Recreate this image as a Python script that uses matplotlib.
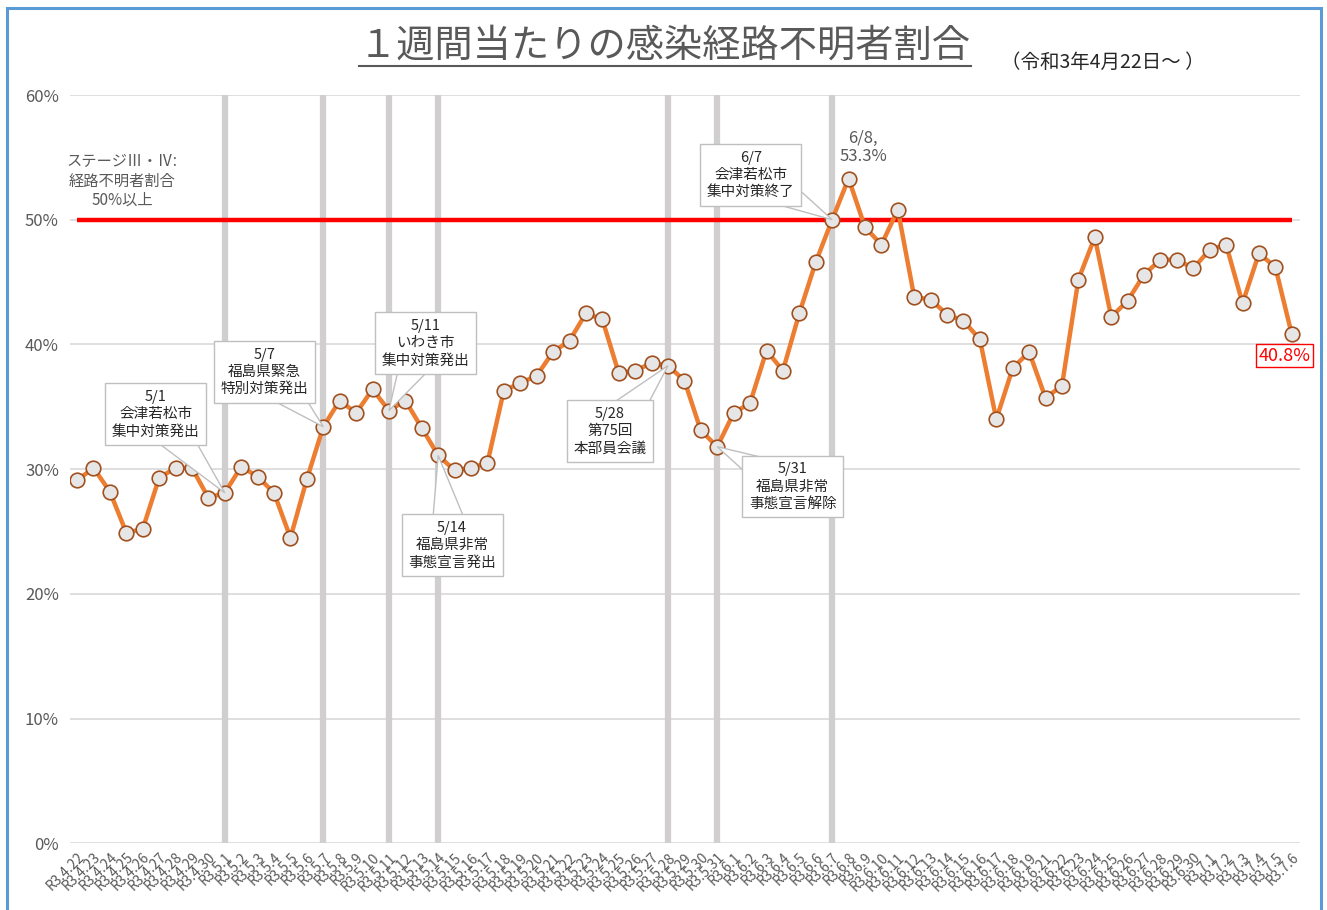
import matplotlib
matplotlib.use("Agg")
import numpy as np
import matplotlib.pyplot as plt
from matplotlib.lines import Line2D
from matplotlib.patches import Rectangle, Polygon

plt.rcParams["font.family"] = ["Noto Sans CJK JP", "DejaVu Sans"]

# dates (6/20 has no data)
dates = [
    "R3.4.22", "R3.4.23", "R3.4.24", "R3.4.25", "R3.4.26", "R3.4.27", "R3.4.28", "R3.4.29", "R3.4.30",
    "R3.5.1", "R3.5.2", "R3.5.3", "R3.5.4", "R3.5.5", "R3.5.6", "R3.5.7", "R3.5.8", "R3.5.9", "R3.5.10",
    "R3.5.11", "R3.5.12", "R3.5.13", "R3.5.14", "R3.5.15", "R3.5.16", "R3.5.17", "R3.5.18", "R3.5.19",
    "R3.5.20", "R3.5.21", "R3.5.22", "R3.5.23", "R3.5.24", "R3.5.25", "R3.5.26", "R3.5.27", "R3.5.28",
    "R3.5.29", "R3.5.30", "R3.5.31",
    "R3.6.1", "R3.6.2", "R3.6.3", "R3.6.4", "R3.6.5", "R3.6.6", "R3.6.7", "R3.6.8", "R3.6.9", "R3.6.10",
    "R3.6.11", "R3.6.12", "R3.6.13", "R3.6.14", "R3.6.15", "R3.6.16", "R3.6.17", "R3.6.18", "R3.6.19",
    "R3.6.21", "R3.6.22", "R3.6.23", "R3.6.24", "R3.6.25", "R3.6.26", "R3.6.27", "R3.6.28", "R3.6.29",
    "R3.6.30",
    "R3.7.1", "R3.7.2", "R3.7.3", "R3.7.4", "R3.7.5", "R3.7.6",
]
ratio = [
    29.1, 30.1, 28.2, 24.9, 25.2, 29.3, 30.1, 30.1, 27.7,
    28.1, 30.2, 29.4, 28.1, 24.5, 29.2, 33.4, 35.5, 34.5, 36.4,
    34.7, 35.5, 33.3, 31.1, 29.9, 30.1, 30.5, 36.3, 36.9,
    37.5, 39.4, 40.3, 42.5, 42.0, 37.7, 37.9, 38.5, 38.3,
    37.1, 33.1, 31.8,
    34.5, 35.3, 39.5, 37.9, 42.5, 46.6, 50.0, 53.3, 49.4, 48.0,
    50.8, 43.8, 43.6, 42.4, 41.9, 40.4, 34.0, 38.1, 39.4,
    35.7, 36.7, 45.2, 48.6, 42.2, 43.5, 45.6, 46.8, 46.8,
    46.1,
    47.6, 48.0, 43.3, 47.3, 46.2, 40.8,
]
threshold = 50
event_dates = ["R3.5.1", "R3.5.7", "R3.5.11", "R3.5.14", "R3.5.28", "R3.5.31", "R3.6.7"]
event_texts = [
    "5/1\n会津若松市\n集中対策発出",
    "5/7\n福島県緊急\n特別対策発出",
    "5/11\nいわき市\n集中対策発出",
    "5/14\n福島県非常\n事態宣言発出",
    "5/28\n第75回\n本部員会議",
    "5/31\n福島県非常\n事態宣言解除",
    "6/7\n会津若松市\n集中対策終了",
]
# box centres (x index, y %)
event_box = [(4.8, 34.4), (11.4, 37.8), (21.25, 40.1), (22.85, 23.9),
             (32.45, 33.05), (43.6, 28.6), (41.05, 53.6)]

x = list(range(len(dates)))
gray = "#595959"

fig = plt.figure(figsize=(13.27, 9.10), dpi=100)
ax = fig.add_axes([70 / 1327, 1 - 843.3 / 910, 1230 / 1327, 748.3 / 910])

ax.set_xlim(-0.43, len(dates) - 1 + 0.5)
ax.set_ylim(0, 60)
ax.set_yticks(range(0, 61, 10))
ax.set_yticklabels([f"{v}%" for v in range(0, 61, 10)], color=gray, fontsize=12)
ax.set_xticks(x)
ax.set_xticklabels(dates, rotation=45, ha="right", va="top", rotation_mode="anchor",
                   fontsize=10, color=gray)
ax.tick_params(length=0, pad=8)
ax.tick_params(axis="x", pad=5)
for s in ax.spines.values():
    s.set_visible(False)
ax.grid(axis="y", color="#D9D9D9", lw=1.2, zorder=0)
ax.set_axisbelow(True)

for d in event_dates:
    ax.axvline(dates.index(d), color="#D0CECE", lw=4.5, zorder=1)

ax.hlines(threshold, 0, len(dates) - 1, color="#FF0000", lw=3.2, zorder=2)

ax.plot(x, ratio, color="#ED7D31", lw=3.2, marker="o", ms=10.5,
        mfc="#E7E6E6", mec="#A0501E", mew=1.2, zorder=3)

# callout boxes with a thin wedge pointer
for d, t, (bx, by) in zip(event_dates, event_texts, event_box):
    i = dates.index(d)
    ax.text(bx, by, t, ha="center", va="center", fontsize=10.5, color="#262626",
            linespacing=1.3, zorder=6,
            bbox=dict(boxstyle="square,pad=0.45", fc="white", ec="#BFBFBF", lw=1))
    c = ax.transData.transform((bx, by))
    p = ax.transData.transform((i, ratio[i]))
    v = p - c
    n = np.array([-v[1], v[0]]) / np.hypot(*v)
    pts = ax.transData.inverted().transform([c + n * 22, c - n * 22, p])
    ax.add_patch(Polygon(pts, closed=True, fc="white", ec="#BFBFBF", lw=1, zorder=5))

peak = ratio.index(max(ratio))
ax.text(peak + 0.9, 55.8, "6/8,\n53.3%", ha="center", va="center", fontsize=12,
        color=gray, linespacing=1.1, zorder=5)
ax.text(len(dates) - 1.45, 39.1, f"{ratio[-1]}%", ha="center", va="center", fontsize=13,
        color="#FF0000", zorder=5, clip_on=False,
        bbox=dict(boxstyle="square,pad=0.15", fc="white", ec="#FF0000", lw=1))
ax.text(2.75, 53.1, "ステージⅢ・Ⅳ:\n経路不明者割合\n50%以上", ha="center", va="center",
        fontsize=11, color=gray, linespacing=1.2, zorder=5)

title = fig.text(665 / 1327, 1 - 46 / 910, "１週間当たりの感染経路不明者割合", ha="center",
                 va="center", fontsize=27.5, color=gray)
fig.text(1103 / 1327, 1 - 62 / 910, "（令和3年4月22日～ ）", ha="center", va="center",
         fontsize=14, color="#262626")

fig.canvas.draw()
bb = title.get_window_extent().transformed(fig.transFigure.inverted())
fig.add_artist(Line2D([bb.x0, bb.x1], [1 - 66 / 910] * 2, color=gray, lw=1.5,
                      transform=fig.transFigure))
fig.add_artist(Rectangle((7 / 1327, -0.02), 1314 / 1327, 1.02 - 7.5 / 910,
                         transform=fig.transFigure, fill=False, ec="#5B9BD5", lw=2.2))

fig.savefig("out.png", dpi=100)
